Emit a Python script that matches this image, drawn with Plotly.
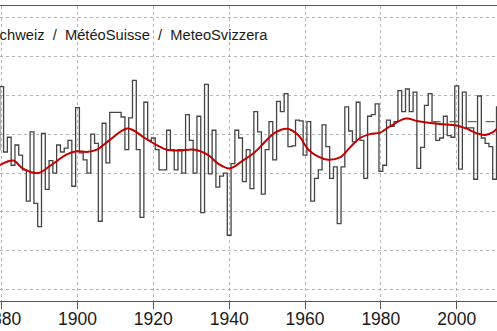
import plotly.graph_objects as go

# yearly values
years = list(range(1879, 2012))
values = [
    0.30, 1.11, 0.27, 0.46, 0.10, 0.36, 0.23, 0.04, -0.36, 0.53,   # 1879-1888
    -0.39, -0.69, 0.51, -0.21, 0.16, 0.00, 0.36, 0.27, 0.32, 0.42,  # 1889-1898
    -0.17, 0.84, 0.26, 0.17, 0.00, 0.50, 0.38, -0.62, 0.64, 0.13,   # 1899-1908
    0.78, 0.78, 0.78, 0.72, 0.30, 0.71, 1.19, 0.30, -0.57, 0.91,    # 1909-1918
    0.42, 0.45, 0.30, 0.04, 0.04, 0.55, 0.30, 0.04, 0.30, 0.00,     # 1919-1928
    0.75, 0.42, 0.00, 0.73, -0.51, 1.14, -0.01, 0.55, -0.18, -0.04, # 1929-1938
    0.00, -0.80, 0.12, 0.55, 0.45, -0.11, 0.30, -0.20, 0.79, 0.53,  # 1939-1948
    -0.27, 0.30, 0.66, 0.17, 0.92, 0.79, 1.02, 0.34, 0.35, 0.68,    # 1949-1958
    0.67, 0.23, 0.66, -0.36, -0.07, 0.04, 0.62, 0.34, -0.07, 0.08,  # 1959-1968
    -0.65, 0.08, 0.85, 0.54, 0.40, 0.91, 0.42, -0.07, 0.73, 0.75,   # 1969-1978
    0.89, 0.02, 0.10, 0.68, 0.60, 0.66, 1.06, 0.79, 1.08, 0.79,     # 1979-1988
    1.04, 0.06, 0.33, 0.87, 1.02, 0.66, 0.42, 0.45, 0.73, 0.48,     # 1989-1998
    0.46, 1.12, 0.05, 1.04, 0.58, 0.58, -0.08, 0.99, 0.45, 0.38,    # 1999-2008
    0.34, -0.08, 0.85,                                              # 2009-2011
]

# smoothed curve
smooth_years = [1879.5, 1883.1, 1885.5, 1889.7, 1892.7, 1897.2, 1899.8, 1902.4, 1905.1,
                1908.6, 1912.8, 1914.7, 1917.4, 1920.9, 1923.5, 1926.6, 1931.0, 1934.5,
                1937.1, 1940.2, 1943.3, 1946.8, 1949.4, 1952.1, 1955.2, 1958.2, 1960.9,
                1963.5, 1966.1, 1969.2, 1971.9, 1974.5, 1977.1, 1979.8, 1982.4, 1986.6,
                1989.5, 1992.1, 1995.6, 2000.0, 2002.6, 2005.3, 2007.5, 2009.7, 2010.6]
smooth_vals = [0.10, 0.16, 0.06, 0.00, 0.09, 0.24, 0.28, 0.27, 0.30,
               0.43, 0.57, 0.55, 0.46, 0.36, 0.30, 0.29, 0.30, 0.23,
               0.12, 0.06, 0.15, 0.27, 0.40, 0.52, 0.57, 0.49, 0.30,
               0.21, 0.17, 0.20, 0.33, 0.45, 0.50, 0.52, 0.60, 0.70,
               0.67, 0.65, 0.63, 0.61, 0.57, 0.51, 0.49, 0.53, 0.57]

# norm line
norm_years = [1993.4, 2020]
norm_vals = [0.66, 0.66]

tick_years = [1880, 1900, 1920, 1940, 1960, 1980, 2000, 2020]
NB = "\u00a0"
label = f"MeteoSchweiz{NB} / {NB}MétéoSuisse{NB} / {NB}MeteoSvizzera"

FONT = "Liberation Sans, Arial, sans-serif"

fig = go.Figure()
fig.add_trace(go.Scatter(x=years, y=values, mode="lines", line_shape="hvh",
                         line=dict(color="#444444", width=1.3), hoverinfo="skip"))
fig.add_trace(go.Scatter(x=norm_years, y=norm_vals, mode="lines",
                         line=dict(color="#3a8a3a", width=1.3, dash="dash"), hoverinfo="skip"))
fig.add_trace(go.Scatter(x=smooth_years, y=smooth_vals, mode="lines", line_shape="spline",
                         line=dict(color="#c40000", width=2), hoverinfo="skip"))

W, H = 497, 331
fig.update_layout(
    width=W, height=H,
    margin=dict(l=0, r=0, t=6, b=30, autoexpand=False),
    paper_bgcolor="white", plot_bgcolor="white",
    showlegend=False,
    font=dict(family=FONT, color="#1a1a1a"),
    xaxis=dict(range=[1879.56, 2010.63], tickvals=tick_years, automargin=False,
               ticktext=[str(t) for t in tick_years], ticklabeloverflow="allow",
               ticklabelstandoff=-5,
               ticks="outside", ticklen=7, tickcolor="#555555", tickwidth=1,
               showline=True, linecolor="#555555", linewidth=1, mirror=True,
               showgrid=True, gridcolor="#b5b5b5", griddash="dot", gridwidth=1,
               zeroline=False, tickfont=dict(size=17.5, color="#1a1a1a", family=FONT)),
    yaxis=dict(range=[-1.645, 2.147], dtick=0.5, tick0=0, showticklabels=False,
               automargin=False,
               showgrid=True, gridcolor="#b5b5b5", griddash="dot", gridwidth=1,
               zeroline=False, showline=False, ticks=""),
    annotations=[dict(text=label, xref="paper", yref="paper",
                      x=-52.6 / W, y=(301 - 35) / 295, xanchor="left", yanchor="middle",
                      showarrow=False, font=dict(size=14.7, color="#1a1a1a", family=FONT))],
)

fig.write_html("out.html")
